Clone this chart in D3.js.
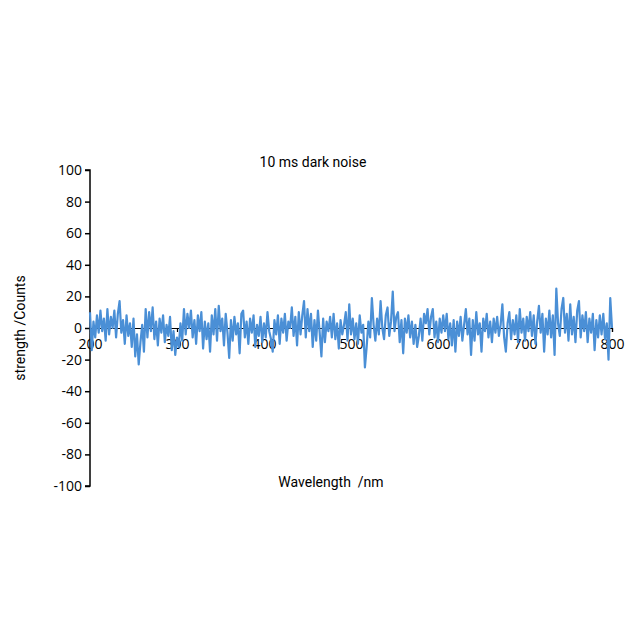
<!DOCTYPE html>
<html lang="en">
  <head>
    <meta charset="UTF-8" />
    <title>10 ms dark noise</title>
    <script src="https://cdn.jsdelivr.net/npm/d3@7"></script>
    <style>
      body { margin: 0; background: #fff; }
      svg { display: block; }
      .tick text { font-family: "Open Sans", sans-serif; font-size: 14px; fill: #000; }
      .lbl { font-family: Roboto, sans-serif; font-size: 14px; fill: #000; white-space: pre; }
    </style>
  </head>
  <body>
    <svg width="640" height="640"></svg>
    <script>
      // wavelength start / step (nm), counts
      const startNm = 200;
      const stepNm = 2;
      const counts = [
        10, -14, 4, -6, 8, -3, 11, -2, 6, -8,
        12, -4, 7, 0, 11, -6, 9, 17, -3, 5,
        -10, 8, -5, 3, -12, 6, -18, -4, -23, -9,
        2, -15, 12, -6, 10, -2, 13, -7, 4, -11,
        6, -3, 8, -9, 2, -5, 7, -14, -2, -17,
        -6, -12, 3, -8, 12, -4, 9, 0, 11, -6,
        5, -10, 8, -2, 10, -13, 4, -7, 3, -15,
        8, -4, 12, -8, 14, -2, 6, -11, 9, -3,
        -19, 5, -8, 7, -4, 3, -16, 9, 11, -6,
        4, -10, 6, -3, 8, -12, 2, -5, 7, -9,
        3, -6, 10, -2, -7, -15, 5, -4, 8, -10,
        6, -3, 9, -8, 4, 0, 13, -5, 7, -11,
        10, -4, 8, 17, -6, 12, -2, 9, -12, 5,
        -8, 11, -3, -18, 6, -9, 4, -2, 7, -6,
        9, -7, 3, -13, 5, -4, 2, 10, -8, 15,
        -4, 6, -7, 3, -10, 8, -3, 2, -25, -12,
        4, -6, 19, 2, -8, 6, -4, 17, 0, -7,
        8, 13, -5, 4, 23, -2, 7, 10, -9, 5,
        -16, 6, -3, 8, -6, 4, -10, 2, -12, -5,
        6, -8, 9, 3, 12, -4, 7, 12, -6, 4,
        -9, 6, -3, 8, -2, 9, -7, 3, -11, 5,
        -15, 4, -5, 7, -8, 2, 12, -4, 6, -17,
        5, -8, 10, -4, 3, -15, 6, -2, 9, -6,
        4, -9, 6, -3, 7, -5, 2, 15, -6, -15,
        3, 10, -7, 5, -4, 8, -9, 12, -3, 6,
        -8, 7, -2, 10, -5, 8, -10, 4, 14, -3,
        9, -15, 6, -4, 11, -6, 8, -17, 25, 3,
        -5, 12, 19, -3, 9, -8, 15, -4, 7, -9,
        11, 17, -6, 8, -2, 10, -9, 6, -3, 9,
        -14, 5, -6, 8, -4, 9, -7, 3, -20, 19,
        0
      ];
      const xTicks = [200, 300, 400, 500, 600, 700, 800];
      const yTicks = [-100, -80, -60, -40, -20, 0, 20, 40, 60, 80, 100];

      const data = counts.map((v, i) => ({ nm: startNm + i * stepNm, v: v }));

      const svg = d3.select('svg');

      const x = d3.scaleLinear().domain([200, 800]).range([90, 612]);
      const y = d3.scaleLinear().domain([-100, 100]).range([486, 170]);

      // y axis, plain hyphen minus like the original
      const yAxis = svg.append('g')
        .attr('transform', `translate(${x(200)},0)`)
        .call(d3.axisLeft(y).tickValues(yTicks).tickSize(5).tickPadding(3)
          .tickFormat(d => String(d)));
      yAxis.selectAll('path, line').attr('stroke', '#000').attr('stroke-width', 1.5);
      yAxis.select('.domain').attr('d', `M-5,${y(100)}H0V${y(-100)}H-5`);

      // x axis through zero
      const xAxis = svg.append('g')
        .attr('transform', `translate(0,${y(0)})`)
        .call(d3.axisBottom(x).tickValues(xTicks).tickSize(4).tickPadding(4));
      xAxis.selectAll('path, line').attr('stroke', '#000').attr('stroke-width', 1.2);
      xAxis.selectAll('.tick text').attr('dy', '0.9em');

      const line = d3.line()
        .x(d => x(d.nm))
        .y(d => y(d.v));

      svg.append('path')
        .attr('d', line(data))
        .attr('fill', 'none')
        .attr('stroke', '#4a8fd6')
        .attr('stroke-width', 2.2)
        .attr('stroke-linejoin', 'round');

      svg.append('text').attr('class', 'lbl')
        .attr('x', 313).attr('y', 167)
        .attr('text-anchor', 'middle')
        .text('10 ms dark noise');

      svg.append('text').attr('class', 'lbl')
        .attr('x', 331).attr('y', 487)
        .attr('text-anchor', 'middle')
        .text('Wavelength  /nm');

      svg.append('text').attr('class', 'lbl')
        .attr('transform', `translate(25,${y(0)}) rotate(-90)`)
        .attr('text-anchor', 'middle')
        .text('strength /Counts');
    </script>
  </body>
</html>
